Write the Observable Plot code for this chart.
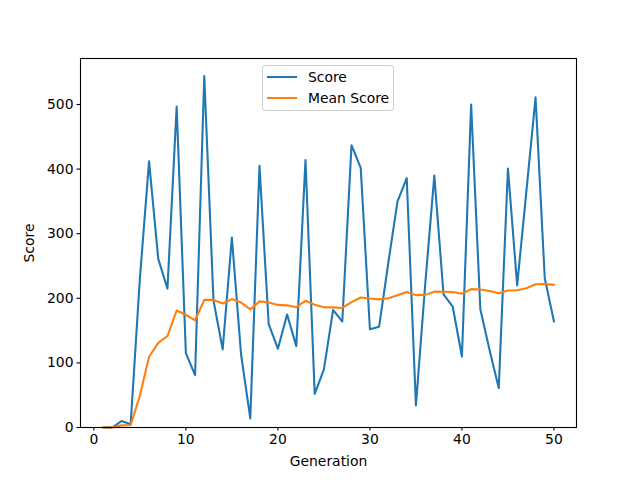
<!DOCTYPE html>
<html>
<head>
<meta charset="utf-8">
<script src="https://cdn.jsdelivr.net/npm/d3@7"></script>
<script src="https://cdn.jsdelivr.net/npm/@observablehq/plot@0.6"></script>
<style>
  body { margin: 0; background: white; }
  #wrap { position: relative; width: 640px; height: 480px; font-family: "DejaVu Sans", sans-serif; }
  #legend {
    position: absolute; left: 262px; top: 65px; width: 130px; height: 44px;
    border: 1px solid #d0d0d0; border-radius: 3px; background: rgba(255,255,255,0.8);
    font-size: 13.9px; color: #000;
  }
  .li { position: absolute; left: 0; height: 20px; display: flex; align-items: center; }
  .sw { position: absolute; left: 4px; width: 30px; height: 2px; }
  .lt { position: absolute; left: 45px; white-space: nowrap; }
</style>
</head>
<body>
<div id="wrap"></div>
<script>
const generations = d3.range(1, 51);
const scores = [0, 0, 10, 5, 230, 412, 261, 215, 497, 115,
  81, 544, 197, 121, 294, 113, 14, 405, 160, 122,
  175, 126, 414, 52, 90, 182, 164, 437, 402, 152,
  156, 255, 350, 386, 34, 220, 390, 206, 187, 110,
  500, 183, 120, 61, 401, 220, 365, 511, 231, 164];
const meanScores = [0, 0, 3.3, 3.8, 49, 109.5, 131.1, 141.6, 181.1, 174.5,
  166, 197.5, 197.5, 192, 198.8, 193.4, 182.9, 195.2, 193.4, 189.8,
  189.1, 186.2, 196.1, 190.1, 186.1, 186, 185.1, 194.1, 201.3, 199.7,
  198.3, 200, 204.6, 209.9, 204.9, 205.3, 210.3, 210.2, 209.6, 207.1,
  214.2, 213.5, 211.3, 207.9, 212.2, 212.4, 215.6, 221.8, 222, 220.8];
const xTicks = [0, 10, 20, 30, 40, 50];
const yTicks = [0, 100, 200, 300, 400, 500];
const seriesNames = ["Score", "Mean Score"];
const seriesColors = ["#1f77b4", "#ff7f0e"];

const rows = generations.map((g, i) => ({g, score: scores[i], mean: meanScores[i]}));

const chart = Plot.plot({
  width: 640,
  height: 480,
  marginLeft: 80,
  marginRight: 64,
  marginTop: 58,
  marginBottom: 53,
  style: {fontFamily: "DejaVu Sans, sans-serif", fontSize: "13.9px", background: "white", color: "black"},
  x: {domain: [-1.45, 52.45]},
  y: {domain: [0, 571.2]},
  marks: [
    Plot.axisX({ticks: xTicks, tickSize: 3.5, tickPadding: 3.5, label: "Generation", labelAnchor: "center", labelArrow: "none", labelOffset: 38, strokeWidth: 1.1}),
    Plot.axisY({ticks: yTicks, tickSize: 3.5, tickPadding: 3.5, label: "Score", labelAnchor: "center", labelArrow: "none", labelOffset: 56, strokeWidth: 1.1}),
    Plot.lineY(rows, {x: "g", y: "score", stroke: seriesColors[0], strokeWidth: 2.08}),
    Plot.lineY(rows, {x: "g", y: "mean", stroke: seriesColors[1], strokeWidth: 2.08}),
    Plot.frame({stroke: "black", strokeWidth: 1.1})
  ]
});

const wrap = document.getElementById("wrap");
wrap.appendChild(chart);
const legend = document.createElement("div");
legend.id = "legend";
seriesNames.forEach((name, i) => {
  const item = document.createElement("div");
  item.className = "li";
  item.style.top = (1 + i * 21) + "px";
  item.style.width = "100%";
  const sw = document.createElement("div");
  sw.className = "sw";
  sw.style.background = seriesColors[i];
  const t = document.createElement("div");
  t.className = "lt";
  t.textContent = name;
  item.appendChild(sw);
  item.appendChild(t);
  legend.appendChild(item);
});
wrap.appendChild(legend);
</script>
</body>
</html>
